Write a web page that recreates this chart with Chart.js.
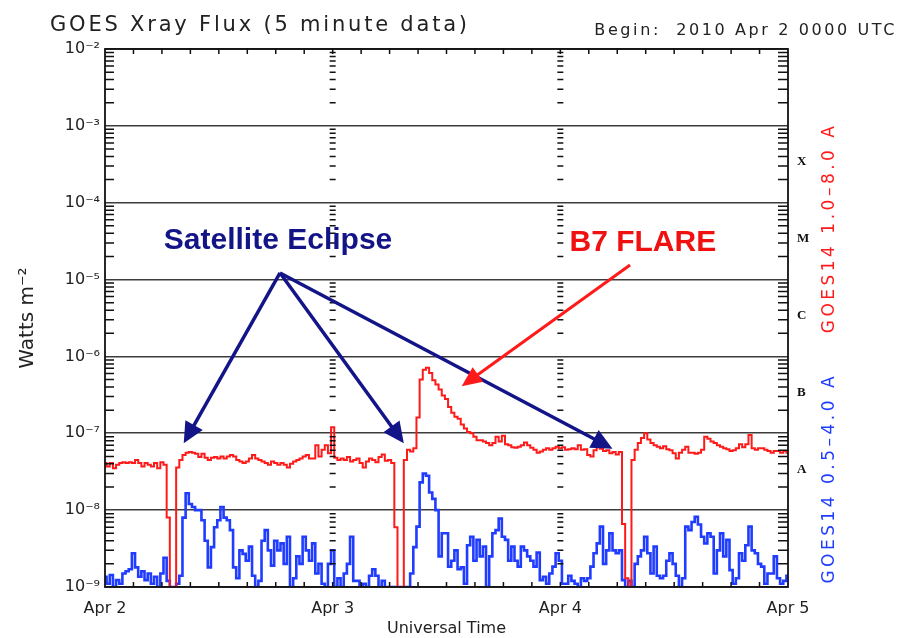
<!DOCTYPE html>
<html>
<head>
<meta charset="utf-8">
<title>GOES Xray Flux</title>
<script src="https://cdn.jsdelivr.net/npm/chart.js@4.4.1/dist/chart.umd.min.js"></script>
<style>
  html, body { margin: 0; padding: 0; background: #fff; }
  #wrap { width: 903px; height: 638px; position: relative; }
</style>
</head>
<body>
<div id="wrap"><canvas id="chart"></canvas></div>
<script>
// GOES14 X-ray flux, 2010 Apr 2 00 UT -> Apr 5 00 UT, one value every 20 minutes (W m^-2)
const SAMPLE_STEP_H = 1 / 3;
const DAY_LABELS = ["Apr 2", "Apr 3", "Apr 4", "Apr 5"];
const DECADES = [-9, -8, -7, -6, -5, -4, -3, -2];
const CLASS_LETTERS = ["A", "B", "C", "M", "X"];
const CLASS_FLUX = [1e-8, 1e-7, 1e-6, 1e-5, 1e-4];

// long channel 1.0-8.0 A
const fluxLong = [
  4.1e-8, 3.7e-8, 4.1e-8, 3.5e-8, 3.9e-8, 4.1e-8, 4.2e-8, 4.1e-8, 4.2e-8, 4.1e-8,
  4.5e-8, 4.1e-8, 3.7e-8, 4.1e-8, 3.9e-8, 3.7e-8, 4.1e-8, 3.5e-8, 4.2e-8, 3.9e-8,
  8e-9, 1e-9, 1e-9, 3.6e-8, 4.5e-8, 5.2e-8, 5.6e-8, 5.7e-8, 5.6e-8, 5.4e-8,
  4.9e-8, 5.4e-8, 4.8e-8, 4.5e-8, 4.8e-8, 4.9e-8,
  4.7e-8, 5.0e-8, 4.7e-8, 5.0e-8, 5.2e-8, 5.0e-8, 4.5e-8, 4.3e-8, 4.1e-8, 4.3e-8,
  4.7e-8, 5.2e-8, 4.7e-8, 4.5e-8, 4.3e-8, 4.1e-8, 3.9e-8, 4.3e-8, 4.1e-8, 3.9e-8,
  4.1e-8, 3.9e-8, 3.6e-8, 4.0e-8, 4.3e-8, 4.5e-8, 4.7e-8, 5.0e-8, 5.2e-8, 4.7e-8,
  4.7e-8, 7.0e-8, 5.0e-8, 6.1e-8, 7.0e-8, 5.5e-8,
  1.2e-7, 4.8e-8, 4.5e-8, 4.7e-8, 4.5e-8, 4.9e-8, 4.3e-8, 4.5e-8, 4.7e-8, 4.1e-8,
  3.6e-8, 4.3e-8, 4.7e-8, 4.5e-8, 4.2e-8, 4.9e-8, 5.3e-8, 4.4e-8, 4.5e-8, 4.1e-8,
  6e-9, 1e-9, 1e-9, 4.5e-8, 6.1e-8, 5.8e-8, 6.4e-8, 1.6e-7, 5.0e-7, 6.7e-7,
  7.1e-7, 6.1e-7, 4.9e-7, 4.3e-7, 3.7e-7, 3.1e-7,
  2.8e-7, 2.2e-7, 1.85e-7, 1.64e-7, 1.55e-7, 1.3e-7, 1.15e-7, 1.04e-7, 1.0e-7, 9.0e-8,
  8.1e-8, 8.1e-8, 7.8e-8, 7.5e-8, 7.0e-8, 7.5e-8, 9.0e-8, 7.8e-8, 9.3e-8, 7.2e-8,
  7.0e-8, 6.6e-8, 6.5e-8, 6.7e-8, 7.0e-8, 7.6e-8, 7.0e-8, 6.5e-8, 6.1e-8, 5.6e-8,
  5.8e-8, 6.1e-8, 6.4e-8, 6.1e-8, 6.4e-8, 6.7e-8,
  6.4e-8, 6.6e-8, 6.1e-8, 6.2e-8, 6.4e-8, 6.2e-8, 7.0e-8, 6.1e-8, 6.2e-8, 5.2e-8,
  5.0e-8, 6.0e-8, 6.6e-8, 6.3e-8, 5.9e-8, 6.0e-8, 5.5e-8, 5.7e-8, 5.3e-8, 5.7e-8,
  6.6e-9, 1.3e-9, 1.0e-9, 4.5e-8, 6.1e-8, 7.5e-8, 8.7e-8, 1.0e-7, 8.3e-8, 7.5e-8,
  7.0e-8, 6.7e-8, 6.4e-8, 6.8e-8, 6.2e-8, 6.0e-8,
  5.5e-8, 4.7e-8, 5.6e-8, 6.1e-8, 6.7e-8, 5.6e-8, 5.6e-8, 5.4e-8, 5.6e-8, 6.1e-8,
  9.0e-8, 8.5e-8, 7.8e-8, 7.5e-8, 7.0e-8, 6.7e-8, 6.4e-8, 6.2e-8, 5.9e-8, 6.0e-8,
  6.4e-8, 7.2e-8, 6.6e-8, 7.2e-8, 9.5e-8, 6.4e-8, 6.1e-8, 6.4e-8, 6.4e-8, 6.1e-8,
  5.9e-8, 5.6e-8, 5.9e-8, 5.9e-8, 5.6e-8, 5.9e-8, 5.6e-8
];

// short channel 0.5-4.0 A
const fluxShort = [
  1.36e-9, 1.1e-9, 1.43e-9, 1.0e-9, 1.23e-9, 1.1e-9, 1.5e-9, 1.6e-9, 1.7e-9, 2.75e-9,
  1.8e-9, 1.36e-9, 1.6e-9, 1.23e-9, 1.5e-9, 1.1e-9, 1.36e-9, 1.0e-9, 1.5e-9, 2.4e-9,
  1.2e-9, 1.0e-9, 1.0e-9, 1.1e-9, 1.4e-9, 8e-9, 1.66e-8, 1.2e-8, 1.1e-8, 1.0e-8,
  1.0e-8, 7.4e-9, 4e-9, 1.8e-9, 3.3e-9, 6e-9,
  7.4e-9, 1.1e-8, 8e-9, 7.4e-9, 5.5e-9, 1.8e-9, 1.3e-9, 3.0e-9, 2.7e-9, 2.2e-9,
  3.35e-9, 1.4e-9, 1.0e-9, 1.2e-9, 4.0e-9, 5.5e-9, 3.0e-9, 1.9e-9, 4.0e-9, 3.0e-9,
  3.7e-9, 2.0e-9, 4.5e-9, 1.0e-9, 1.3e-9, 2.5e-9, 2.0e-9, 4.5e-9, 3.0e-9, 2.2e-9,
  3.7e-9, 1.5e-9, 2.0e-9, 1.1e-9, 1.0e-9, 2.0e-9,
  3.0e-9, 1.0e-9, 1.3e-9, 1.0e-9, 1.5e-9, 2.0e-9, 4.5e-9, 1.2e-9, 1.2e-9, 1.0e-9,
  1.1e-9, 1.0e-9, 1.4e-9, 1.7e-9, 1.4e-9, 1.0e-9, 1.2e-9, 1.0e-9, 1.0e-9, 1.0e-9,
  1.0e-9, 1.0e-9, 1.0e-9, 1.0e-9, 1.0e-9, 1.5e-9, 3.3e-9, 6.1e-9, 2.3e-8, 3.0e-8,
  2.8e-8, 1.7e-8, 1.4e-8, 1.0e-8, 2.5e-9, 5e-9,
  5e-9, 1.84e-9, 2.2e-9, 3.0e-9, 1.7e-9, 1.8e-9, 1.1e-9, 3.5e-9, 4.5e-9, 2.2e-9,
  4.1e-9, 2.5e-9, 3.35e-9, 1.0e-9, 2.5e-9, 5.0e-9, 5.5e-9, 7.8e-9, 4.5e-9, 4.1e-9,
  2.2e-9, 3.35e-9, 2.2e-9, 1.84e-9, 3.35e-9, 3.0e-9, 2.5e-9, 2.2e-9, 1.84e-9, 2.8e-9,
  1.23e-9, 1.36e-9, 1.1e-9, 1.5e-9, 1.84e-9, 2.75e-9,
  2.2e-9, 1.1e-9, 1.1e-9, 1.4e-9, 1.2e-9, 1.1e-9, 1.0e-9, 1.3e-9, 1.2e-9, 1.3e-9,
  1.84e-9, 2.75e-9, 3.7e-9, 6.1e-9, 2.0e-9, 3.0e-9, 5.0e-9, 3.0e-9, 2.75e-9, 3.0e-9,
  1.23e-9, 1.0e-9, 1.2e-9, 1.0e-9, 2.0e-9, 2.5e-9, 3.0e-9, 4.5e-9, 2.75e-9, 1.5e-9,
  3.35e-9, 1.4e-9, 1.3e-9, 1.4e-9, 2.2e-9, 2.75e-9,
  2.0e-9, 1.4e-9, 1.0e-9, 1.3e-9, 6.1e-9, 5.5e-9, 7.0e-9, 8.2e-9, 6.5e-9, 4.5e-9,
  3.7e-9, 5.0e-9, 4.5e-9, 1.5e-9, 3.0e-9, 5.0e-9, 2.5e-9, 4.1e-9, 1.66e-9, 1.1e-9,
  1.3e-9, 2.75e-9, 2.2e-9, 3.5e-9, 6.1e-9, 3.0e-9, 2.75e-9, 2.0e-9, 1.84e-9, 1.1e-9,
  1.5e-9, 1.5e-9, 2.5e-9, 1.3e-9, 1.1e-9, 1.2e-9, 1.4e-9
];

// annotations, placed in data units (hours since Apr 2 00 UT, W m^-2)
const eclipseLabel = { text: "Satellite Eclipse", hour: 18.24, flux: 3.2e-5 };
const eclipseTail = { hour: 18.45, flux: 1.22e-5 };
const eclipseTips = [
  { hour: 8.3, flux: 7.4e-8 },
  { hour: 31.5, flux: 7.4e-8 },
  { hour: 53.5, flux: 6.3e-8 }
];
const flareLabel = { text: "B7 FLARE", hour: 56.7, flux: 3.0e-5 };
const flareTail = { hour: 55.35, flux: 1.55e-5 };
const flareTip = { hour: 37.6, flux: 4.1e-7 };

const RED = "#ff1a1a";
const BLUE = "#1f3cff";
const NAVY = "#121488";
const SUP = { "-": "\u207b", "0": "\u2070", "1": "\u00b9", "2": "\u00b2", "3": "\u00b3", "4": "\u2074",
  "5": "\u2075", "6": "\u2076", "7": "\u2077", "8": "\u2078", "9": "\u2079" };

function toPoints(values) {
  return values.map((v, i) => ({ x: i * SAMPLE_STEP_H, y: v }));
}

function arrow(ctx, x1, y1, x2, y2, color, width, headLen, headHalf) {
  const a = Math.atan2(y2 - y1, x2 - x1);
  const bx = x2 - headLen * Math.cos(a), by = y2 - headLen * Math.sin(a);
  ctx.save();
  ctx.strokeStyle = color;
  ctx.fillStyle = color;
  ctx.lineWidth = width;
  ctx.beginPath();
  ctx.moveTo(x1, y1);
  ctx.lineTo(bx + 2 * Math.cos(a), by + 2 * Math.sin(a));
  ctx.stroke();
  ctx.beginPath();
  ctx.moveTo(x2, y2);
  ctx.lineTo(bx + headHalf * Math.sin(a), by - headHalf * Math.cos(a));
  ctx.lineTo(bx - headHalf * Math.sin(a), by + headHalf * Math.cos(a));
  ctx.closePath();
  ctx.fill();
  ctx.restore();
}

// frame, inner minor ticks, side labels, titles and annotations
const decor = {
  id: "decor",
  afterDraw(chart) {
    const ctx = chart.ctx;
    const { left, right, top, bottom } = chart.chartArea;
    const xs = chart.scales.x, ys = chart.scales.y;
    const px = p => xs.getPixelForValue(p.hour);
    const py = p => ys.getPixelForValue(p.flux);

    ctx.save();
    ctx.strokeStyle = "#111";
    ctx.lineWidth = 1.5;
    ctx.beginPath();
    for (let d = 0; d < DECADES.length - 1; d++) {
      for (let k = 2; k <= 9; k++) {
        const y = ys.getPixelForValue(k * Math.pow(10, DECADES[d]));
        ctx.moveTo(left, y); ctx.lineTo(left + 9, y);
        ctx.moveTo(right - 10, y); ctx.lineTo(right, y);
        for (let day = 1; day < DAY_LABELS.length - 1; day++) {
          const x = xs.getPixelForValue(day * 24);
          ctx.moveTo(x - 3, y); ctx.lineTo(x + 3, y);
        }
      }
    }
    for (let h = 3; h < 72; h += 3) {
      const x = xs.getPixelForValue(h);
      ctx.moveTo(x, top); ctx.lineTo(x, top + 5);
      ctx.moveTo(x, bottom); ctx.lineTo(x, bottom - 5);
    }
    ctx.stroke();
    ctx.lineWidth = 1.8;
    ctx.strokeRect(left, top, right - left, bottom - top);

    // channel labels on the right
    ctx.font = "17px 'DejaVu Sans'";
    ctx.letterSpacing = "3.5px";
    ctx.textAlign = "center";
    ctx.textBaseline = "middle";
    [["GOES14 1.0\u20138.0 A", RED, 4.7e-5], ["GOES14 0.5\u20134.0 A", BLUE, 2.6e-8]].forEach(([t, c, v]) => {
      ctx.save();
      ctx.translate(830, ys.getPixelForValue(v));
      ctx.rotate(-Math.PI / 2);
      ctx.fillStyle = c;
      ctx.fillText(t, 0, 0);
      ctx.restore();
    });

    // titles
    ctx.fillStyle = "#222";
    ctx.textBaseline = "alphabetic";
    ctx.textAlign = "left";
    ctx.font = "21px 'DejaVu Sans'";
    ctx.letterSpacing = "2.8px";
    ctx.fillText("GOES Xray Flux (5 minute data)", 50, 31);
    ctx.textAlign = "right";
    ctx.font = "16px 'DejaVu Sans'";
    ctx.letterSpacing = "2.6px";
    ctx.fillText("Begin:  2010 Apr 2 0000 UTC", 897, 35);
    ctx.letterSpacing = "0px";

    // annotations
    eclipseTips.forEach(t => arrow(ctx, px(eclipseTail), py(eclipseTail), px(t), py(t), NAVY, 3.5, 21, 10));
    arrow(ctx, px(flareTail), py(flareTail), px(flareTip), py(flareTip), RED, 3, 20, 9);
    ctx.font = "bold 30px 'Liberation Sans', Arial, sans-serif";
    ctx.textAlign = "center";
    ctx.textBaseline = "middle";
    ctx.fillStyle = NAVY;
    ctx.fillText(eclipseLabel.text, px(eclipseLabel), py(eclipseLabel));
    ctx.fillStyle = "#f01010";
    ctx.fillText(flareLabel.text, px(flareLabel), py(flareLabel));
    ctx.restore();
  }
};

new Chart(document.getElementById("chart"), {
  type: "line",
  data: {
    datasets: [
      { label: "GOES14 1.0-8.0 A", data: toPoints(fluxLong), borderColor: RED, borderWidth: 2, pointRadius: 0, stepped: "middle" },
      { label: "GOES14 0.5-4.0 A", data: toPoints(fluxShort), borderColor: BLUE, borderWidth: 2.6, pointRadius: 0, stepped: "middle" }
    ]
  },
  options: {
    responsive: true,
    maintainAspectRatio: false,
    animation: false,
    layout: { padding: { top: 49, left: 0, right: 0, bottom: 0 } },
    plugins: { legend: { display: false }, tooltip: { enabled: false } },
    scales: {
      x: {
        type: "linear",
        min: 0, max: 72,
        afterBuildTicks: axis => { axis.ticks = DAY_LABELS.map((_, i) => ({ value: i * 24 })); },
        afterFit: s => { s.height = 51; },
        grid: { display: false, drawTicks: false },
        border: { display: false },
        ticks: {
          callback: v => DAY_LABELS[Math.round(v / 24)],
          maxRotation: 0, autoSkip: false, padding: 12,
          color: "#222", font: { family: "DejaVu Sans", size: 16 }
        },
        title: { display: true, text: "Universal Time", color: "#222", padding: { top: 0, bottom: 0 },
          font: { family: "DejaVu Sans", size: 16 } }
      },
      y: {
        type: "logarithmic",
        min: 1e-9, max: 1e-2,
        afterBuildTicks: axis => { axis.ticks = DECADES.map(e => ({ value: Math.pow(10, e) })); },
        afterFit: s => { s.width = 105; },
        grid: { color: "#3c3c3c", lineWidth: 1.6, drawTicks: false },
        border: { display: false },
        ticks: {
          callback: v => "10" + String(Math.round(Math.log10(v))).split("").map(c => SUP[c]).join(""),
          padding: 5, color: "#222", font: { family: "DejaVu Sans", size: 16 }
        },
        title: { display: true, text: "Watts m\u207b\u00b2", color: "#222", padding: { top: 16, bottom: 0 },
          font: { family: "DejaVu Sans", size: 20 } }
      },
      y2: {
        type: "logarithmic",
        position: "right",
        min: 1e-9, max: 1e-2,
        afterBuildTicks: axis => { axis.ticks = CLASS_FLUX.map(v => ({ value: v })); },
        afterFit: s => { s.width = 115; },
        grid: { display: false, drawTicks: false },
        border: { display: false },
        ticks: {
          callback: (v, i) => CLASS_LETTERS[i],
          padding: 9, labelOffset: -41, color: "#111",
          font: { family: "Liberation Serif", size: 13, weight: "bold" }
        }
      }
    }
  },
  plugins: [decor]
});
</script>
</body>
</html>
